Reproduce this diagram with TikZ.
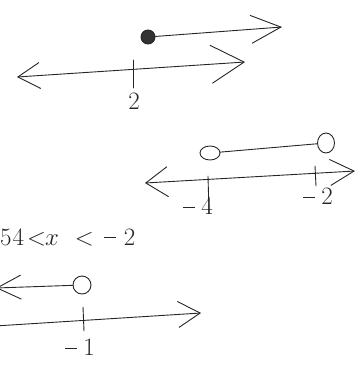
\documentclass[tikz,border=0pt]{standalone}
\usetikzlibrary{arrows.meta,shapes.geometric}
\newcommand{\mydash}{\rule[0.27em]{12pt}{0.9pt}}
\begin{document}
\begin{tikzpicture}[x=1pt,y=-1pt,
  pen/.style={draw=black!85, line width=0.9pt, line cap=round, line join=round},
  opendot/.style={pen, circle, inner sep=0pt, minimum size=15pt},
  filldot/.style={pen, circle, fill=black!80, inner sep=0pt, minimum size=14pt},
  lbl/.style={inner sep=0pt, font=\fontsize{25}{25}\selectfont, text=black!85},
  barbA/.style={-{Straight Barb[length=30pt,width=28pt,line width=0.9pt]}},
  barbB/.style={-{Straight Barb[length=22pt,width=26pt,line width=0.9pt]}}
]
\useasboundingbox (0,0) rectangle (360,381);
% ---------- top panel ----------
\node[filldot] (d1) at (148,37) {};
\coordinate (r1) at (282,27);
\draw[pen, barbA] (d1) -- (r1);
\coordinate (l1) at (17,77);
\coordinate (m1) at (245,62);
\coordinate (t1a) at (133,60);
\coordinate (t1b) at (133,88);
\draw[pen, {Straight Barb[length=22pt,width=26pt,line width=0.9pt]}-{Straight Barb[length=33pt,width=38pt,line width=0.9pt]}] (l1) -- (m1);
\draw[pen] (t1a) -- (t1b);
\node[lbl] (n2) at (134,101) {2};
% ---------- middle panel ----------
\node[pen, ellipse, inner sep=0pt, minimum width=20pt, minimum height=14pt] (c2) at (210,153) {};
\node[pen, ellipse, inner sep=0pt, minimum width=17pt, minimum height=20pt] (c3) at (326,143) {};
\draw[pen] (c2) -- (c3);
\coordinate (l2) at (145,183);
\coordinate (m2) at (355,171);
\draw[pen, {Straight Barb[length=22pt,width=30pt,line width=0.9pt]}-{Straight Barb[length=24pt,width=26pt,line width=0.9pt]}] (l2) -- (m2);
\coordinate (t2a) at (208,176);
\coordinate (t2b) at (209,212);
\draw[pen] (t2a) -- (t2b);
\coordinate (t3a) at (315,166);
\coordinate (t3b) at (316,186);
\draw[pen] (t3a) -- (t3b);
\node[lbl] (n4) at (198,206) {\mydash\hspace{6pt}4};
\node[lbl] (n5) at (318,196) {\mydash\hspace{6pt}2};
% ---------- text ----------
\node[lbl, anchor=base west] (ineq) at (0,245) {5\hspace{1pt}4\hspace{3pt}$<$\hspace{-1pt}$x$\hspace{16pt}$<$\hspace{10pt}\mydash\hspace{8pt}2};
% ---------- bottom panel ----------
\node[opendot, minimum size=18pt] (c4) at (82,285) {};
\coordinate (l4) at (-4,288);
\draw[pen, {Straight Barb[length=24pt,width=24pt,line width=0.9pt]}-] (l4) -- (c4);
\coordinate (l5) at (-5,326);
\coordinate (m5) at (201,313);
\draw[pen, barbB] (l5) -- (m5);
\coordinate (t5a) at (83,307);
\coordinate (t5b) at (84,331);
\draw[pen] (t5a) -- (t5b);
\node[lbl] (n1) at (80,347) {\mydash\hspace{6pt}1};
\end{tikzpicture}
\end{document}
